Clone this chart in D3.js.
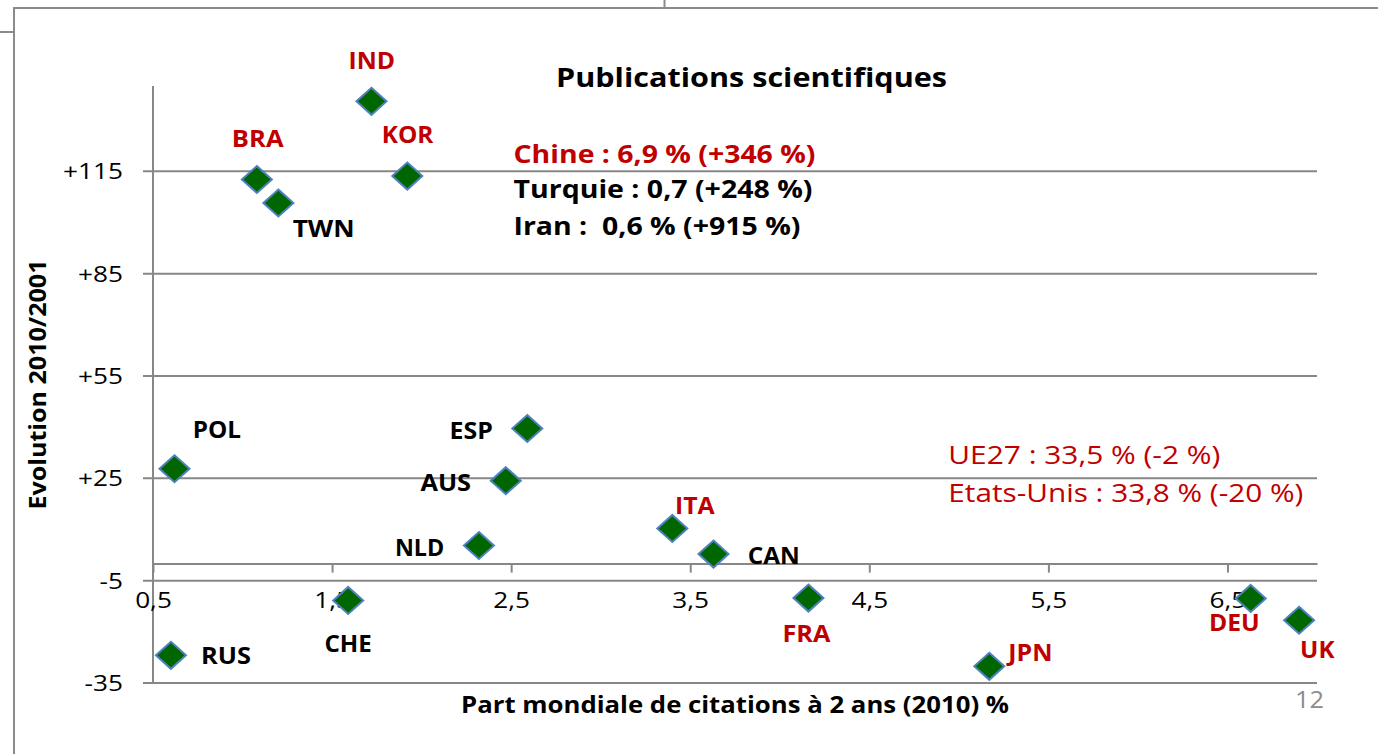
<!DOCTYPE html>
<html><head><meta charset="utf-8">
<script src="https://cdn.jsdelivr.net/npm/d3@7"></script>
<style>body{margin:0;background:#fff}svg{display:block}</style>
</head><body>
<svg id="c" width="1378" height="754"></svg>
<script>
// ---- data ----
const countries = ["IND","KOR","BRA","TWN","POL","RUS","CHE","NLD","AUS","ESP","ITA","CAN","FRA","JPN","DEU","UK"];
const citationShare = [1.72,1.92,1.08,1.20,0.62,0.60,1.59,2.32,2.47,2.59,3.40,3.63,4.16,5.17,6.63,6.90];
const evolution = [135.5,113.6,112.6,105.7,27.8,-26.9,-10.8,5.3,24.3,39.6,10.3,2.8,-10.1,-30.1,-10.2,-16.6];
const highlighted = ["IND","KOR","BRA","ITA","FRA","JPN","DEU","UK"];
const xTicks = [0.5,1.5,2.5,3.5,4.5,5.5,6.5];
const xTickLabels = ["0,5","1,5","2,5","3,5","4,5","5,5","6,5"];
const yTicks = [-35,-5,25,55,85,115];
const yTickLabels = ["-35","-5","+25","+55","+85","+115"];
const title = "Publications scientifiques";
const xTitle = "Part mondiale de citations à 2 ans (2010) %";
const yTitle = "Evolution 2010/2001";
const notesTop = ["Chine : 6,9 % (+346 %)","Turquie : 0,7 (+248 %)","Iran :  0,6 % (+915 %)"];
const notesTopHighlight = [true,false,false];
const notesRight = ["UE27 : 33,5 % (-2 %)","Etats-Unis : 33,8 % (-20 %)"];
const pageNumber = "12";

// ---- layout / style (kept apart from data) ----
const RED = "#C00000", GRID = "#878787";
const FONT = "'Open Sans', 'Noto Sans', sans-serif";
const labelLayout = { // dx, dy (baseline), anchor, width
  IND:[-23,-32,"start",46.5], KOR:[-25.6,-33.3,"start",51.7], BRA:[-25,-32.7,"start",51.7],
  TWN:[14.3,34,"start",62], POL:[18.3,-30.4,"start",48.3], RUS:[30,8.3,"start",50],
  CHE:[-23.7,52,"start",47.3], NLD:[-34.7,10.7,"end",49.3], AUS:[-34.7,10.7,"end",50.6],
  ESP:[-34.4,10.7,"end",43.3], ITA:[2.6,-14.3,"start",39.7], CAN:[34.3,10,"start",52],
  FRA:[-26,44.3,"start",48], JPN:[19,-5.3,"start",44.3], DEU:[-41.7,32.4,"start",50.7],
  UK:[1,37.7,"start",34.4]
};
const STRETCH = 1.19;

const svg = d3.select("#c");
const x = d3.scaleLinear().domain([0.5, 7]).range([153, 1317]);
const y = d3.scaleLinear().domain([-35, 140]).range([683, 86]);

function fitW(sel, w){ sel.attr("textLength", w).attr("lengthAdjust","spacingAndGlyphs"); }
function stretch(sel, k){ sel.each(function(){ const n=this.getComputedTextLength(); d3.select(this).attr("textLength", n*k).attr("lengthAdjust","spacingAndGlyphs"); }); }

// slide frame artefacts
const frame = svg.append("g").attr("stroke","#8a8a8a").attr("stroke-width",2).attr("fill","none");
frame.append("path").attr("d","M14,754 L14,8 L1378,8");
frame.append("path").attr("d","M0,32 L14,32");
frame.append("path").attr("d","M664.5,0 L664.5,8");

// gridlines (with left ticks)
svg.append("g").selectAll("line").data(yTicks).join("line")
  .attr("x1", x(0.5) - 10).attr("x2", x(7))
  .attr("y1", d => y(d)).attr("y2", d => y(d))
  .attr("stroke", GRID).attr("stroke-width", 2);

// y axis line
svg.append("line").attr("x1", x(0.5)).attr("x2", x(0.5)).attr("y1", y(140)).attr("y2", y(-35))
  .attr("stroke", GRID).attr("stroke-width", 2);

// y tick labels
svg.append("g").selectAll("text").data(yTicks).join("text")
  .attr("x", 123).attr("y", d => y(d) + 8).attr("text-anchor","end")
  .attr("font-family", FONT).attr("font-size", 22).attr("fill","#000")
  .text((d,i) => yTickLabels[i]).call(stretch, STRETCH);

// x axis crossing at 0
const xAxis = d3.axisBottom(x).tickValues(xTicks).tickSize(9).tickSizeOuter(0)
  .tickFormat((d,i) => xTickLabels[i]);
const gx = svg.append("g").attr("transform", `translate(0,${y(0)})`).call(xAxis);
gx.select(".domain").attr("stroke", GRID).attr("stroke-width", 2);
gx.selectAll(".tick line").attr("stroke", GRID).attr("stroke-width", 2);
gx.selectAll(".tick text").attr("y", 44).attr("dy", 0)
  .attr("font-family", FONT).attr("font-size", 22).attr("fill", "#000")
  .call(stretch, STRETCH);

// points
const pts = countries.map((c,i) => ({c, xv: citationShare[i], yv: evolution[i]}));
svg.append("g").selectAll("path").data(pts).join("path")
  .attr("transform", d => `translate(${x(d.xv)},${y(d.yv)})`)
  .attr("d", "M0,-13.5 L15,0 L0,13.5 L-15,0 Z")
  .attr("fill", "#006600").attr("stroke", "#4F81BD").attr("stroke-width", 2);

// point labels
svg.append("g").selectAll("text").data(pts).join("text")
  .attr("x", d => x(d.xv) + labelLayout[d.c][0])
  .attr("y", d => y(d.yv) + labelLayout[d.c][1])
  .attr("text-anchor", d => labelLayout[d.c][2])
  .attr("font-family", FONT).attr("font-size", 23).attr("font-weight", 700)
  .attr("fill", d => highlighted.includes(d.c) ? RED : "#000")
  .text(d => d.c)
  .each(function(d){ fitW(d3.select(this), labelLayout[d.c][3]); });

// title
svg.append("text").attr("x", 556).attr("y", 87).attr("font-family", FONT)
  .attr("font-size", 27).attr("font-weight", 700).attr("fill","#000")
  .text(title).call(fitW, 391);

// top notes
const topBase = [163.3, 198.3, 235], topW = [302, 299, 287];
svg.append("g").selectAll("text").data(notesTop).join("text")
  .attr("x", 513.5).attr("y", (d,i) => topBase[i])
  .attr("font-family", FONT).attr("font-size", 25).attr("font-weight", 700)
  .attr("fill", (d,i) => notesTopHighlight[i] ? RED : "#000")
  .style("white-space","pre")
  .text(d => d).each(function(d,i){ fitW(d3.select(this), topW[i]); });

// right notes
const rightBase = [464.3, 501.7], rightW = [272, 355];
svg.append("g").selectAll("text").data(notesRight).join("text")
  .attr("x", 948.3).attr("y", (d,i) => rightBase[i])
  .attr("font-family", FONT).attr("font-size", 25).attr("font-weight", 400)
  .attr("fill", RED)
  .text(d => d).each(function(d,i){ fitW(d3.select(this), rightW[i]); });

// axis titles
svg.append("text").attr("x", (x(0.5)+x(7))/2).attr("y", 713).attr("text-anchor","middle")
  .attr("font-family", FONT).attr("font-size", 24).attr("font-weight", 700).attr("fill","#000")
  .text(xTitle).call(fitW, 548);
svg.append("text").attr("transform", `translate(46,${(y(-35)+y(140))/2}) rotate(-90)`)
  .attr("text-anchor","middle")
  .attr("font-family", FONT).attr("font-size", 24).attr("font-weight", 700).attr("fill","#000")
  .text(yTitle).call(fitW, 250);

// page number
svg.append("text").attr("x", 1295).attr("y", 708)
  .attr("font-family", FONT).attr("font-size", 24).attr("fill", "#8c8c8c")
  .text(pageNumber).call(fitW, 29);
</script>
</body></html>
